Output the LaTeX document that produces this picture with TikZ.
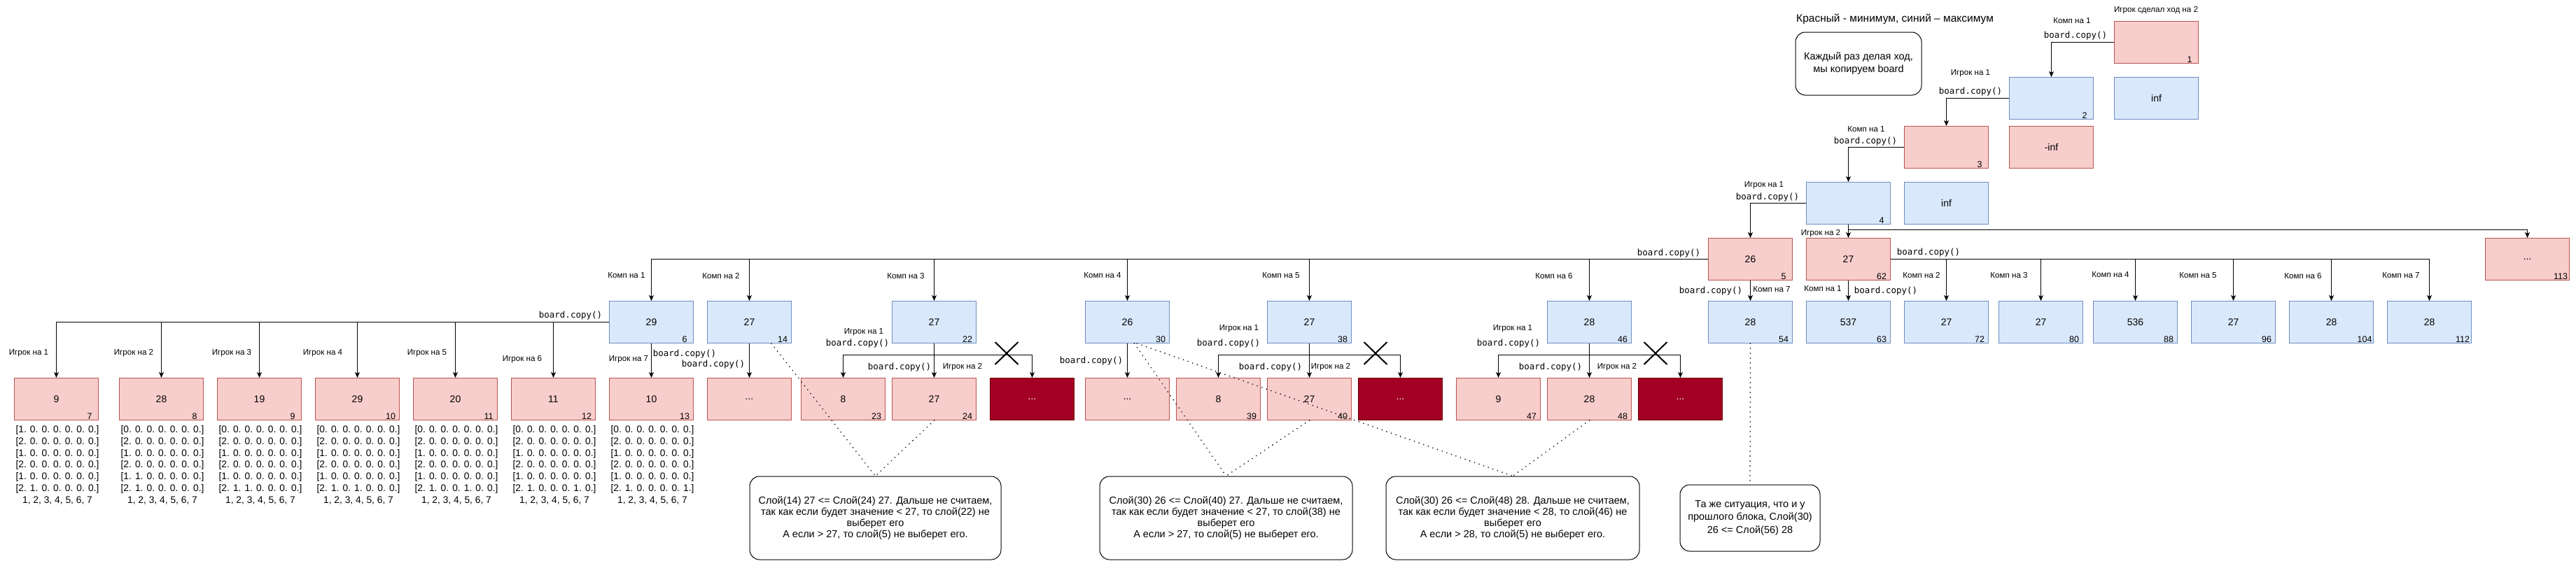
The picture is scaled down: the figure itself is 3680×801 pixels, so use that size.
\documentclass[tikz,border=0pt]{standalone}
\usepackage{fontspec}
\setmainfont{Liberation Sans}
\newfontfamily\codefont{DejaVu Sans Mono}
\usetikzlibrary{arrows.meta,shapes.misc}

\definecolor{redfill}{HTML}{F8CECC}
\definecolor{redline}{HTML}{B85450}
\definecolor{bluefill}{HTML}{DAE8FC}
\definecolor{blueline}{HTML}{6C8EBF}
\definecolor{darkfill}{HTML}{A20025}
\definecolor{darkline}{HTML}{6F0000}

\tikzset{
  box/.style={minimum width=120pt, minimum height=60pt, inner sep=0pt, anchor=north west,
    line width=1pt, font=\fontsize{14}{16}\selectfont},
  redbox/.style={box, draw=redline, fill=redfill},
  bluebox/.style={box, draw=blueline, fill=bluefill},
  darkbox/.style={box, draw=darkline, fill=darkfill, text=white},
  idx/.style={label={[font=\fontsize{12.5}{14}\selectfont, inner sep=0pt, anchor=center,
    xshift=-13pt, yshift=6pt]south east:#1}},
  lbl/.style={font=\fontsize{11.6}{13}\selectfont, inner sep=0pt},
  code/.style={font=\codefont\fontsize{12.5}{14}\selectfont, inner sep=0pt},
  boardtxt/.style={font=\fontsize{13.8}{16.9}\selectfont, align=center, anchor=north, inner sep=0pt},
  note/.style={draw, rounded corners=14pt, line width=1pt, align=center,
    font=\fontsize{14.5}{16}\selectfont},
  arr/.style={-{Stealth[length=8pt,width=7pt,inset=2pt]}, line width=1pt},
  dots/.style={line width=1.8pt, line cap=round, dash pattern=on 0pt off 7pt},
  xmark/.style={draw, fill=white, cross out, line width=2pt, minimum width=31pt,
    minimum height=30pt, inner sep=0pt}
}

\begin{document}
\begin{tikzpicture}[x=1pt, y=-1pt]
	\useasboundingbox (0,0) rectangle (3680,801);

	% legend
	\node[inner sep=0pt, font=\fontsize{15.5}{18}\selectfont] (legend) at (2707,27) {Красный - минимум, синий – максимум};
	\node[note, minimum width=180pt, minimum height=90pt, font=\fontsize{14.5}{18}\selectfont] (hint) at (2655,91) {Каждый раз делая ход,\\мы копируем board};

	% top chain
	\node[redbox, idx=1] (b1) at (3020,30) {};
	\node[bluebox] (i1) at (3020,110) {inf};
	\node[bluebox, idx=2] (b2) at (2870,110) {};
	\node[redbox, idx=3] (b3) at (2720,180) {};
	\node[redbox] (i2) at (2870,180) {-inf};
	\node[bluebox, idx=4] (b4) at (2580,260) {};
	\node[bluebox] (i3) at (2720,260) {inf};
	\node[redbox, idx=5] (b5) at (2440,340) {26};
	\node[redbox, idx=62] (b62) at (2580,340) {27};
	\node[redbox, idx=113] (b113) at (3550,340) {...};

	% second row
	\node[bluebox, idx=6] (b6) at (870,430) {29};
	\node[bluebox, idx=14] (b14) at (1010,430) {27};
	\node[bluebox, idx=22] (b22) at (1274,430) {27};
	\node[bluebox, idx=30] (b30) at (1550,430) {26};
	\node[bluebox, idx=38] (b38) at (1810,430) {27};
	\node[bluebox, idx=46] (b46) at (2210,430) {28};
	\node[bluebox, idx=54] (b54) at (2440,430) {28};
	\node[bluebox, idx=63] (b63) at (2580,430) {537};
	\node[bluebox, idx=72] (b72) at (2720,430) {27};
	\node[bluebox, idx=80] (b80) at (2855,430) {27};
	\node[bluebox, idx=88] (b88) at (2990,430) {536};
	\node[bluebox, idx=96] (b96) at (3130,430) {27};
	\node[bluebox, idx=104] (b104) at (3270,430) {28};
	\node[bluebox, idx=112] (b112) at (3410,430) {28};

	% third row
	\node[redbox, idx=7] (b7) at (20,540) {9};
	\node[redbox, idx=8] (b8) at (170,540) {28};
	\node[redbox, idx=9] (b9) at (310,540) {19};
	\node[redbox, idx=10] (b10) at (450,540) {29};
	\node[redbox, idx=11] (b11) at (590,540) {20};
	\node[redbox, idx=12] (b12) at (730,540) {11};
	\node[redbox, idx=13] (b13) at (870,540) {10};
	\node[redbox] (b14d) at (1010,540) {...};
	\node[redbox, idx=23] (b23) at (1144,540) {8};
	\node[redbox, idx=24] (b24) at (1274,540) {27};
	\node[darkbox] (b22x) at (1414,540) {...};
	\node[redbox] (b30d) at (1550,540) {...};
	\node[redbox, idx=39] (b39) at (1680,540) {8};
	\node[redbox, idx=40] (b40) at (1810,540) {27};
	\node[darkbox] (b38x) at (1940,540) {...};
	\node[redbox, idx=47] (b47) at (2080,540) {9};
	\node[redbox, idx=48] (b48) at (2210,540) {28};
	\node[darkbox] (b46x) at (2340,540) {...};

	% boards
	\node[boardtxt] (m7) at (82,608) {{[}1. 0. 0. 0. 0. 0. 0.]\\{[}2. 0. 0. 0. 0. 0. 0.]\\{[}1. 0. 0. 0. 0. 0. 0.]\\{[}2. 0. 0. 0. 0. 0. 0.]\\{[}1. 0. 0. 0. 0. 0. 0.]\\{[}2. 1. 0. 0. 0. 0. 0.]\\1, 2, 3, 4, 5, 6, 7};
	\node[boardtxt] (m8) at (232,608) {{[}0. 0. 0. 0. 0. 0. 0.]\\{[}2. 0. 0. 0. 0. 0. 0.]\\{[}1. 0. 0. 0. 0. 0. 0.]\\{[}2. 0. 0. 0. 0. 0. 0.]\\{[}1. 1. 0. 0. 0. 0. 0.]\\{[}2. 1. 0. 0. 0. 0. 0.]\\1, 2, 3, 4, 5, 6, 7};
	\node[boardtxt] (m9) at (372,608) {{[}0. 0. 0. 0. 0. 0. 0.]\\{[}2. 0. 0. 0. 0. 0. 0.]\\{[}1. 0. 0. 0. 0. 0. 0.]\\{[}2. 0. 0. 0. 0. 0. 0.]\\{[}1. 0. 0. 0. 0. 0. 0.]\\{[}2. 1. 1. 0. 0. 0. 0.]\\1, 2, 3, 4, 5, 6, 7};
	\node[boardtxt] (m10) at (512,608) {{[}0. 0. 0. 0. 0. 0. 0.]\\{[}2. 0. 0. 0. 0. 0. 0.]\\{[}1. 0. 0. 0. 0. 0. 0.]\\{[}2. 0. 0. 0. 0. 0. 0.]\\{[}1. 0. 0. 0. 0. 0. 0.]\\{[}2. 1. 0. 1. 0. 0. 0.]\\1, 2, 3, 4, 5, 6, 7};
	\node[boardtxt] (m11) at (652,608) {{[}0. 0. 0. 0. 0. 0. 0.]\\{[}2. 0. 0. 0. 0. 0. 0.]\\{[}1. 0. 0. 0. 0. 0. 0.]\\{[}2. 0. 0. 0. 0. 0. 0.]\\{[}1. 0. 0. 0. 0. 0. 0.]\\{[}2. 1. 0. 0. 1. 0. 0.]\\1, 2, 3, 4, 5, 6, 7};
	\node[boardtxt] (m12) at (792,608) {{[}0. 0. 0. 0. 0. 0. 0.]\\{[}2. 0. 0. 0. 0. 0. 0.]\\{[}1. 0. 0. 0. 0. 0. 0.]\\{[}2. 0. 0. 0. 0. 0. 0.]\\{[}1. 0. 0. 0. 0. 0. 0.]\\{[}2. 1. 0. 0. 0. 1. 0.]\\1, 2, 3, 4, 5, 6, 7};
	\node[boardtxt] (m13) at (932,608) {{[}0. 0. 0. 0. 0. 0. 0.]\\{[}2. 0. 0. 0. 0. 0. 0.]\\{[}1. 0. 0. 0. 0. 0. 0.]\\{[}2. 0. 0. 0. 0. 0. 0.]\\{[}1. 0. 0. 0. 0. 0. 0.]\\{[}2. 1. 0. 0. 0. 0. 1.]\\1, 2, 3, 4, 5, 6, 7};

	% notes
	\node[note, minimum width=359pt, minimum height=119pt] (n1) at (1250.5,740.5) {Слой(14) 27 <= Слой(24) 27. Дальше не считаем,\\так как если будет значение < 27, то слой(22) не\\выберет его\\А если > 27, то слой(5) не выберет его.};
	\node[note, minimum width=361pt, minimum height=119pt] (n2) at (1751.5,740.5) {Слой(30) 26 <= Слой(40) 27. Дальше не считаем,\\так как если будет значение < 27, то слой(38) не\\выберет его\\А если > 27, то слой(5) не выберет его.};
	\node[note, minimum width=362pt, minimum height=119pt] (n3) at (2161,740.5) {Слой(30) 26 <= Слой(48) 28. Дальше не считаем,\\так как если будет значение < 28, то слой(46) не\\выберет его\\А если > 28, то слой(5) не выберет его.};
	\node[note, minimum width=200pt, minimum height=95pt, font=\fontsize{14.5}{18}\selectfont] (n4) at (2500,740.5) {Та же ситуация, что и у\\прошлого блока, Слой(30)\\26 <= Слой(56) 28};

	% top chain edges
	\draw[arr] (b1.west) -| (b2.north);
	\draw[arr] (b2.west) -| (b3.north);
	\draw[arr] (b3.west) -| (b4.north);
	\draw[arr] (b4.west) -| (b5.north);
	\draw[arr] (b4.south) -- (b62.north);
	\draw[arr] (b4.south) -- ++(0,7) -| (b113.north);

	% from 5
	\draw[arr] (b5.west) -| (b6.north);
	\draw[arr] (b5.west) -| (b14.north);
	\draw[arr] (b5.west) -| (b22.north);
	\draw[arr] (b5.west) -| (b30.north);
	\draw[arr] (b5.west) -| (b38.north);
	\draw[arr] (b5.west) -| (b46.north);
	\draw[arr] (b5.south) -- (b54.north);

	% from 62
	\draw[arr] (b62.south) -- (b63.north);
	\draw[arr] (b62.east) -| (b72.north);
	\draw[arr] (b62.east) -| (b80.north);
	\draw[arr] (b62.east) -| (b88.north);
	\draw[arr] (b62.east) -| (b96.north);
	\draw[arr] (b62.east) -| (b104.north);
	\draw[arr] (b62.east) -| (b112.north);

	% from 6
	\draw[arr] (b6.west) -| (b7.north);
	\draw[arr] (b6.west) -| (b8.north);
	\draw[arr] (b6.west) -| (b9.north);
	\draw[arr] (b6.west) -| (b10.north);
	\draw[arr] (b6.west) -| (b11.north);
	\draw[arr] (b6.west) -| (b12.north);
	\draw[arr] (b6.south) -- (b13.north);
	\draw[arr] (b14.south) -- (b14d.north);

	% from 22, 30, 38, 46
	\draw[arr] (b22.south) -- ++(0,16) -| (b23.north);
	\draw[arr] (b22.south) -- (b24.north);
	\draw[arr] (b22.south) -- ++(0,16) -| (b22x.north);
	\draw[arr] (b30.south) -- (b30d.north);
	\draw[arr] (b38.south) -- ++(0,16) -| (b39.north);
	\draw[arr] (b38.south) -- (b40.north);
	\draw[arr] (b38.south) -- ++(0,16) -| (b38x.north);
	\draw[arr] (b46.south) -- ++(0,16) -| (b47.north);
	\draw[arr] (b46.south) -- (b48.north);
	\draw[arr] (b46.south) -- ++(0,16) -| (b46x.north);

	\node[xmark] (x22) at (1438,505) {};
	\node[xmark] (x38) at (1965,505) {};
	\node[xmark] (x46) at (2365,505) {};

	% dotted links to the notes
	\draw[dots] ([xshift=-29pt]b14.south east) -- (n1.north);
	\draw[dots] (b24.south) -- (n1.north);
	\draw[dots] ([xshift=10pt]b30.south) -- (n2.north);
	\draw[dots] (b40.south) -- (n2.north);
	\draw[dots] ([xshift=14pt]b30.south) -- (n3.north);
	\draw[dots] (b48.south) -- (n3.north);
	\draw[dots] (b54.south) -- (n4.north);

	% labels, top chain
	\node[lbl] (t0) at (3080,15) {Игрок сделал ход на 2};
	\node[lbl] (t1) at (2960,30) {Комп на 1};
	\node[code] (c1) at (2965,51) {board.copy()};
	\node[lbl] (t2) at (2815,105) {Игрок на 1};
	\node[code] (c2) at (2815,131) {board.copy()};
	\node[lbl] (t3) at (2666,185) {Комп на 1};
	\node[code] (c3) at (2665,202) {board.copy()};
	\node[lbl] (t4) at (2520,265) {Игрок на 1};
	\node[code] (c4) at (2525,282) {board.copy()};
	\node[lbl] (t5) at (2601,334) {Игрок на 2};

	% labels, from 5
	\node[code] (c5) at (2384,362) {board.copy()};
	\node[lbl] (k1) at (895,394) {Комп на 1};
	\node[lbl] (k2) at (1030,394) {Комп на 2};
	\node[lbl] (k3) at (1294,394) {Комп на 3};
	\node[lbl] (k4) at (1575,394) {Комп на 4};
	\node[lbl] (k5) at (1830,394) {Комп на 5};
	\node[lbl] (k6) at (2220,394) {Комп на 6};
	\node[code] (c6) at (2444,416) {board.copy()};
	\node[lbl] (k7) at (2531,414) {Комп на 7};

	% labels, from 62
	\node[lbl] (g1) at (2604,413) {Комп на 1};
	\node[code] (c7) at (2694,416) {board.copy()};
	\node[code] (c8) at (2755,361) {board.copy()};
	\node[lbl] (g2) at (2745,393) {Комп на 2};
	\node[lbl] (g3) at (2870,393) {Комп на 3};
	\node[lbl] (g4) at (3015,393) {Комп на 4};
	\node[lbl] (g5) at (3140,394) {Комп на 5};
	\node[lbl] (g6) at (3290,394) {Комп на 6};
	\node[lbl] (g7) at (3430,394) {Комп на 7};

	% labels, from 6 and 14
	\node[code] (c9) at (815,451) {board.copy()};
	\node[lbl] (p1) at (41,505) {Игрок на 1};
	\node[lbl] (p2) at (191,505) {Игрок на 2};
	\node[lbl] (p3) at (331,505) {Игрок на 3};
	\node[lbl] (p4) at (461,505) {Игрок на 4};
	\node[lbl] (p5) at (610,505) {Игрок на 5};
	\node[lbl] (p6) at (746,514) {Игрок на 6};
	\node[lbl] (p7) at (898,514) {Игрок на 7};
	\node[code] (c10) at (978,506) {board.copy()};
	\node[code] (c11) at (1019,521) {board.copy()};

	% labels, from 22, 30, 38, 46
	\node[lbl] (q1) at (1234,475) {Игрок на 1};
	\node[code] (c12) at (1225,491) {board.copy()};
	\node[code] (c13) at (1285,525) {board.copy()};
	\node[lbl] (q2) at (1375,525) {Игрок на 2};
	\node[code] (c14) at (1559,516) {board.copy()};
	\node[lbl] (r1) at (1770,470) {Игрок на 1};
	\node[code] (c15) at (1755,491) {board.copy()};
	\node[code] (c16) at (1815,525) {board.copy()};
	\node[lbl] (r2) at (1901,525) {Игрок на 2};
	\node[lbl] (s1) at (2161,470) {Игрок на 1};
	\node[code] (c17) at (2155,491) {board.copy()};
	\node[code] (c18) at (2215,525) {board.copy()};
	\node[lbl] (s2) at (2310,525) {Игрок на 2};

\end{tikzpicture}
\end{document}
